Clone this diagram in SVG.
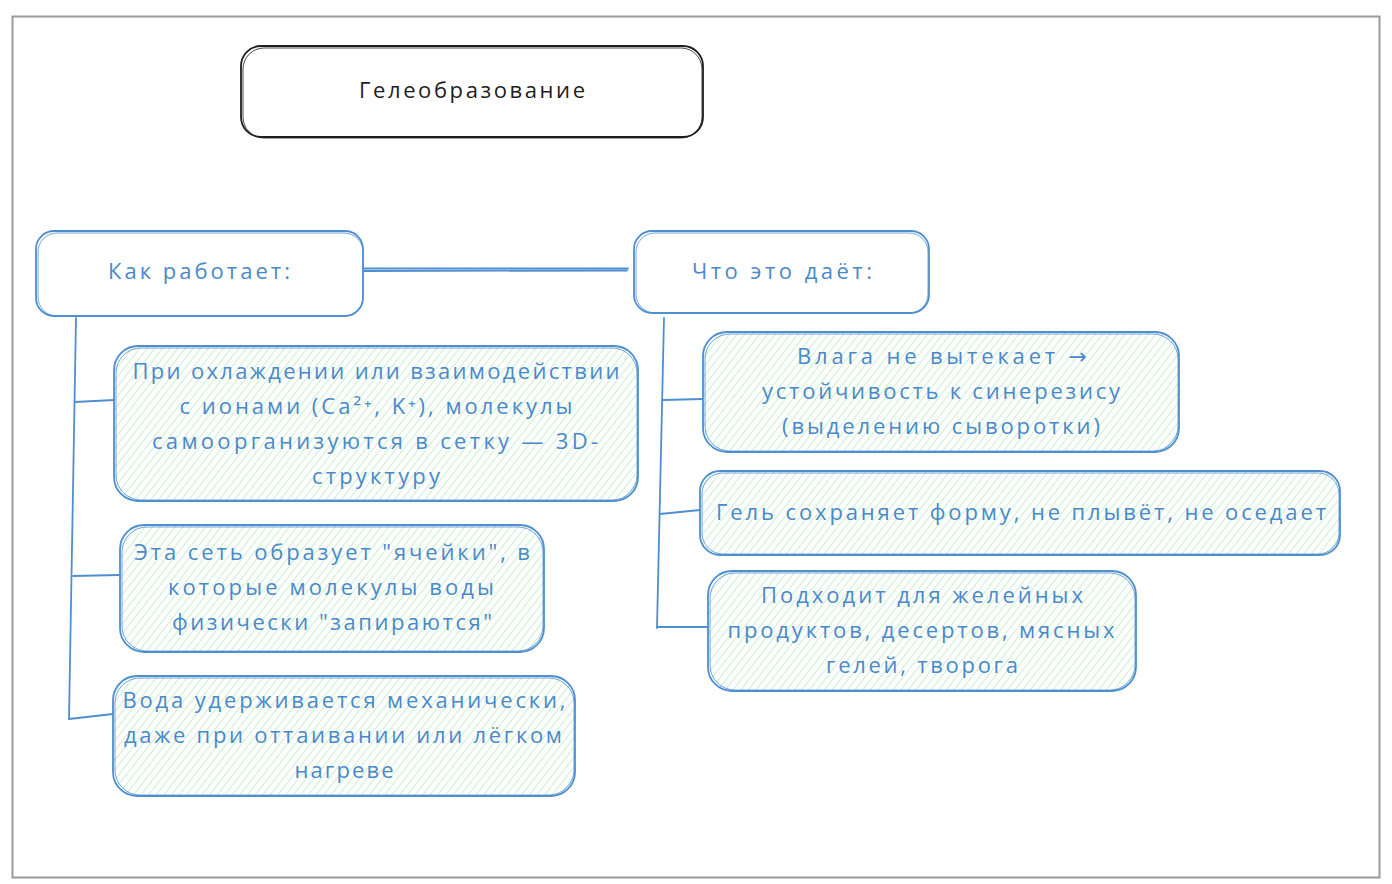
<svg xmlns="http://www.w3.org/2000/svg" width="1392" height="884" viewBox="0 0 1392 884">
<defs>
<pattern id="hatch" patternUnits="userSpaceOnUse" width="6" height="6" patternTransform="rotate(38)">
<line x1="0" y1="0" x2="0" y2="6" stroke="#abe6b4" stroke-width="1.3"/>
</pattern>
</defs>
<style>
.frame{fill:#fff;stroke:#9a9a9a;stroke-width:2}
.box{fill:none;stroke:#4f8fd1;stroke-width:1.8}
.box2{fill:none;stroke:#4f8fd1;stroke-width:1;opacity:.8}
.fill{fill:url(#hatch);stroke:none}
.dark{fill:none;stroke:#1e1e1e;stroke-width:1.8}
.dark2{fill:none;stroke:#1e1e1e;stroke-width:1;opacity:.8}
.t{font-family:"Open Sans","DejaVu Sans",sans-serif;font-size:22px;fill:#4a89c9;text-anchor:middle}
.td{font-family:"Open Sans","DejaVu Sans",sans-serif;font-size:22px;fill:#1e1e1e;text-anchor:middle}
.c{fill:none;stroke:#4f8fd1;stroke-width:1.8;stroke-linecap:round}
</style>
<rect class="frame" x="12.5" y="16.5" width="1367" height="861"/>

<g id="connectors">
<path class="c" d="M363 268.5 L628 268.5"/>
<path class="c" d="M364 271 L627 270.5"/>
<path class="c" d="M76 318 L69 719"/>
<path class="c" d="M75 402 L114 400"/>
<path class="c" d="M73 576 L119 575"/>
<path class="c" d="M69 719 L113 714"/>
<path class="c" d="M664 318 L657 628"/>
<path class="c" d="M663 400 L702 399"/>
<path class="c" d="M660 514 L700 510"/>
<path class="c" d="M657 627 L708 627"/>
</g>

<g id="title">
<rect class="dark" x="241" y="46" width="462" height="91" rx="20"/>
<rect class="dark2" x="243" y="48" width="459" height="90" rx="21"/>
<text class="td" x="472" y="98" textLength="226" lengthAdjust="spacing">Гелеобразование</text>
</g>

<g id="how">
<rect class="box" x="36" y="231" width="327" height="85" rx="18"/>
<rect class="box2" x="38" y="233" width="325" height="83" rx="19"/>
<text class="t" x="199" y="279" textLength="182" lengthAdjust="spacing">Как работает:</text>
</g>

<g id="what">
<rect class="box" x="634" y="231" width="295" height="82" rx="18"/>
<rect class="box2" x="636" y="233" width="292" height="80" rx="19"/>
<text class="t" x="782" y="279" textLength="180" lengthAdjust="spacing">Что это даёт:</text>
</g>

<g id="l1">
<rect class="fill" x="114" y="346" width="524" height="155" rx="24"/>
<rect class="box" x="114" y="346" width="524" height="155" rx="24"/>
<rect class="box2" x="116" y="348" width="521" height="152" rx="25"/>
<text class="t" x="376" y="379" textLength="487" lengthAdjust="spacing">При охлаждении или взаимодействии</text>
<text class="t" x="376" y="414" textLength="393" lengthAdjust="spacing">с ионами (Ca²⁺, K⁺), молекулы</text>
<text class="t" x="375" y="449" textLength="446" lengthAdjust="spacing">самоорганизуются в сетку — 3D-</text>
<text class="t" x="376" y="484" textLength="128" lengthAdjust="spacing">структуру</text>
</g>

<g id="l2">
<rect class="fill" x="120" y="525" width="424" height="127" rx="24"/>
<rect class="box" x="120" y="525" width="424" height="127" rx="24"/>
<rect class="box2" x="122" y="527" width="421" height="124" rx="25"/>
<text class="t" x="332" y="560" textLength="396" lengthAdjust="spacing">Эта сеть образует "ячейки", в</text>
<text class="t" x="331" y="595" textLength="326" lengthAdjust="spacing">которые молекулы воды</text>
<text class="t" x="332" y="630" textLength="320" lengthAdjust="spacing">физически "запираются"</text>
</g>

<g id="l3">
<rect class="fill" x="113" y="676" width="462" height="120" rx="24"/>
<rect class="box" x="113" y="676" width="462" height="120" rx="24"/>
<rect class="box2" x="115" y="678" width="459" height="117" rx="25"/>
<text class="t" x="344" y="708" textLength="443" lengthAdjust="spacing">Вода удерживается механически,</text>
<text class="t" x="343" y="743" textLength="438" lengthAdjust="spacing">даже при оттаивании или лёгком</text>
<text class="t" x="344" y="778" textLength="99" lengthAdjust="spacing">нагреве</text>
</g>

<g id="r1">
<rect class="fill" x="703" y="332" width="476" height="120" rx="24"/>
<rect class="box" x="703" y="332" width="476" height="120" rx="24"/>
<rect class="box2" x="705" y="334" width="473" height="117" rx="25"/>
<text class="t" x="942" y="364" textLength="290" lengthAdjust="spacing">Влага не вытекает →</text>
<text class="t" x="941" y="399" textLength="358" lengthAdjust="spacing">устойчивость к синерезису</text>
<text class="t" x="941" y="434" textLength="318" lengthAdjust="spacing">(выделению сыворотки)</text>
</g>

<g id="r2">
<rect class="fill" x="700" y="471" width="640" height="84" rx="20"/>
<rect class="box" x="700" y="471" width="640" height="84" rx="20"/>
<rect class="box2" x="702" y="473" width="637" height="81" rx="21"/>
<text class="t" x="1021" y="520" textLength="610" lengthAdjust="spacing">Гель сохраняет форму, не плывёт, не оседает</text>
</g>

<g id="r3">
<rect class="fill" x="708" y="571" width="428" height="120" rx="24"/>
<rect class="box" x="708" y="571" width="428" height="120" rx="24"/>
<rect class="box2" x="710" y="573" width="425" height="117" rx="25"/>
<text class="t" x="922" y="603" textLength="322" lengthAdjust="spacing">Подходит для желейных</text>
<text class="t" x="921" y="638" textLength="387" lengthAdjust="spacing">продуктов, десертов, мясных</text>
<text class="t" x="922" y="673" textLength="192" lengthAdjust="spacing">гелей, творога</text>
</g>
</svg>
